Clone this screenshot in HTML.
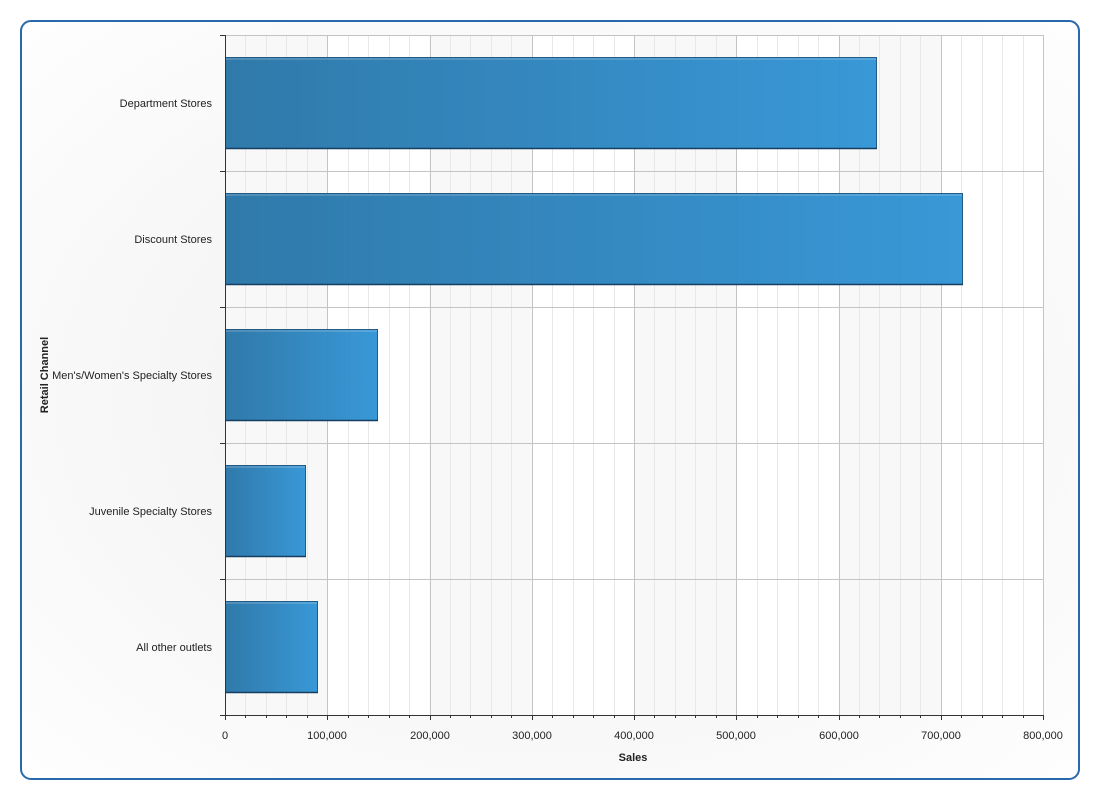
<!DOCTYPE html>
<html><head><meta charset="utf-8"><style>
html,body{margin:0;padding:0;background:#fff;}
svg{display:block;font-family:"Liberation Sans",sans-serif;}
</style></head><body>
<svg width="1100" height="800" viewBox="0 0 1100 800" xmlns="http://www.w3.org/2000/svg">
<defs>
<radialGradient id="bg" cx="0.5" cy="0.5" r="0.75">
<stop offset="0" stop-color="#eeeeee"/>
<stop offset="1" stop-color="#ffffff"/>
</radialGradient>
<linearGradient id="bar" x1="0" y1="0" x2="1" y2="0">
<stop offset="0" stop-color="#2a76a8"/>
<stop offset="1" stop-color="#3395d6"/>
</linearGradient>
</defs>
<rect x="0" y="0" width="1100" height="800" fill="#fff"/>
<rect x="21" y="21" width="1058" height="758" rx="10" fill="url(#bg)" stroke="#2a68ae" stroke-width="2"/>
<rect x="225" y="35" width="818" height="680" fill="#fff"/>
<g fill="#f8f8f8">
<rect x="225" y="35" width="102.25" height="680"/>
<rect x="429.5" y="35" width="102.25" height="680"/>
<rect x="634" y="35" width="102.25" height="680"/>
<rect x="838.5" y="35" width="102.25" height="680"/>
</g>
<g stroke="#e8e8e8" stroke-width="1" id="minor"></g>
<g stroke="#c4c4c4" stroke-width="1" id="major"></g>
<g stroke="#c4c4c4" stroke-width="1">
<line x1="225" y1="35.5" x2="1043" y2="35.5"/>
<line x1="225" y1="171.5" x2="1043" y2="171.5"/>
<line x1="225" y1="307.5" x2="1043" y2="307.5"/>
<line x1="225" y1="443.5" x2="1043" y2="443.5"/>
<line x1="225" y1="579.5" x2="1043" y2="579.5"/>
</g>
<g opacity="0.97">
<rect x="225.5" y="57.5" width="651" height="91" fill="url(#bar)" stroke="#1d5580"/>
<rect x="225.5" y="193.5" width="737" height="91" fill="url(#bar)" stroke="#1d5580"/>
<rect x="225.5" y="329.5" width="152" height="91" fill="url(#bar)" stroke="#1d5580"/>
<rect x="225.5" y="465.5" width="80" height="91" fill="url(#bar)" stroke="#1d5580"/>
<rect x="225.5" y="601.5" width="92" height="91" fill="url(#bar)" stroke="#1d5580"/>
</g>
<g stroke="#153e60" stroke-width="1.5">
<line x1="225" y1="148.5" x2="877" y2="148.5"/>
<line x1="225" y1="284.5" x2="963" y2="284.5"/>
<line x1="225" y1="420.5" x2="378" y2="420.5"/>
<line x1="225" y1="556.5" x2="306" y2="556.5"/>
<line x1="225" y1="692.5" x2="318" y2="692.5"/>
</g>
<g stroke="rgba(255,255,255,0.3)">
<line x1="226" y1="59" x2="876" y2="59"/>
<line x1="226" y1="195" x2="962" y2="195"/>
<line x1="226" y1="331" x2="377" y2="331"/>
<line x1="226" y1="467" x2="305" y2="467"/>
<line x1="226" y1="603" x2="317" y2="603"/>
</g>
<g stroke="#333" stroke-width="1">
<line x1="225.5" y1="35" x2="225.5" y2="716"/>
<line x1="225" y1="715.5" x2="1043" y2="715.5"/>
<line x1="220" y1="35.5" x2="225" y2="35.5"/>
<line x1="220" y1="171.5" x2="225" y2="171.5"/>
<line x1="220" y1="307.5" x2="225" y2="307.5"/>
<line x1="220" y1="443.5" x2="225" y2="443.5"/>
<line x1="220" y1="579.5" x2="225" y2="579.5"/>
<line x1="220" y1="715.5" x2="225" y2="715.5"/>
</g>
<g stroke="#333" id="xticks"></g>
<g font-size="11" fill="#222" text-anchor="end">
<text x="212" y="107">Department Stores</text>
<text x="212" y="243">Discount Stores</text>
<text x="212" y="379">Men's/Women's Specialty Stores</text>
<text x="212" y="515">Juvenile Specialty Stores</text>
<text x="212" y="651">All other outlets</text>
</g>
<g font-size="11" fill="#222" text-anchor="middle">
<text x="225" y="739">0</text>
<text x="327" y="739">100,000</text>
<text x="430" y="739">200,000</text>
<text x="532" y="739">300,000</text>
<text x="634" y="739">400,000</text>
<text x="736" y="739">500,000</text>
<text x="839" y="739">600,000</text>
<text x="941" y="739">700,000</text>
<text x="1043" y="739">800,000</text>
</g>
<text x="633" y="761" font-size="11" font-weight="bold" fill="#222" text-anchor="middle">Sales</text>
<text transform="translate(48,375) rotate(-90)" font-size="11" font-weight="bold" fill="#222" text-anchor="middle">Retail Channel</text>
<script>
(function(){
var ns="http://www.w3.org/2000/svg";
var mi=document.getElementById("minor"),ma=document.getElementById("major"),xt=document.getElementById("xticks");
for(var i=1;i<=40;i++){
var x=Math.round(225+i*818/40)+0.5;
var l=document.createElementNS(ns,"line");
l.setAttribute("x1",x);l.setAttribute("x2",x);l.setAttribute("y1",35);l.setAttribute("y2",715);
(i%5==0?ma:mi).appendChild(l);
}
for(var i=0;i<=40;i++){
var x=Math.round(225+i*818/40)+0.5;
var t=document.createElementNS(ns,"line");
t.setAttribute("x1",x);t.setAttribute("x2",x);t.setAttribute("y1",715);t.setAttribute("y2",i%5==0?720:718);
xt.appendChild(t);
}
})();
</script>
</svg>
</body></html>
